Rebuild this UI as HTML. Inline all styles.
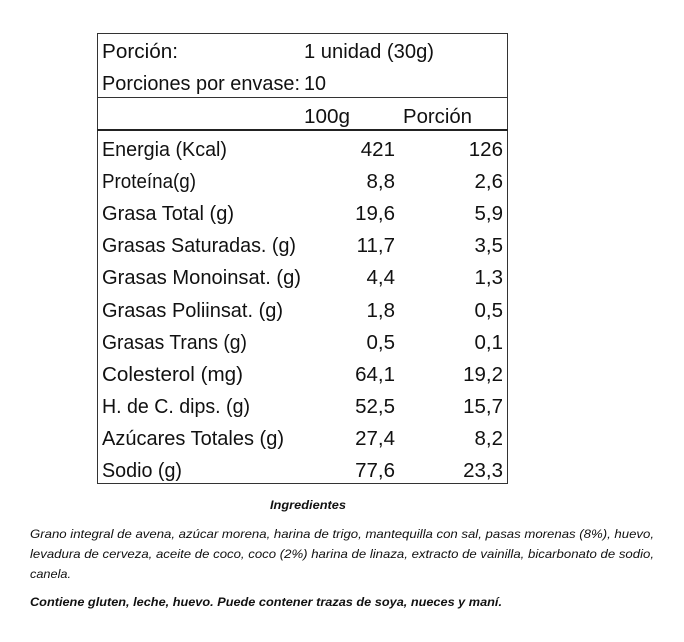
<!DOCTYPE html>
<html><head><meta charset="utf-8"><style>html,body{margin:0;padding:0;background:#fff}svg{display:block}</style></head>
<body>
<svg width="684" height="642" viewBox="0 0 684 642" xmlns="http://www.w3.org/2000/svg" font-family="Liberation Sans, sans-serif" fill="#111">
<rect x="97.5" y="33.5" width="410" height="450" fill="none" stroke="#333" stroke-width="1"/>
<line x1="97" y1="97.5" x2="508" y2="97.5" stroke="#333" stroke-width="1"/>
<line x1="97" y1="130" x2="508" y2="130" stroke="#222" stroke-width="2"/>
<g font-size="20.5">
<text x="102" y="58" textLength="76" lengthAdjust="spacingAndGlyphs">Porción:</text>
<text x="304" y="58" textLength="130" lengthAdjust="spacingAndGlyphs">1 unidad (30g)</text>
<text x="102" y="90" textLength="198" lengthAdjust="spacingAndGlyphs">Porciones por envase:</text>
<text x="304" y="90" textLength="22" lengthAdjust="spacingAndGlyphs">10</text>
<text x="304" y="123" textLength="46" lengthAdjust="spacingAndGlyphs">100g</text>
<text x="403" y="123" textLength="69" lengthAdjust="spacingAndGlyphs">Porción</text>

<text x="102" y="156" textLength="125" lengthAdjust="spacingAndGlyphs">Energia (Kcal)</text>
<text x="102" y="188" textLength="94" lengthAdjust="spacingAndGlyphs">Proteína(g)</text>
<text x="102" y="220" textLength="132" lengthAdjust="spacingAndGlyphs">Grasa Total (g)</text>
<text x="102" y="252" textLength="194" lengthAdjust="spacingAndGlyphs">Grasas Saturadas. (g)</text>
<text x="102" y="284" textLength="199" lengthAdjust="spacingAndGlyphs">Grasas Monoinsat. (g)</text>
<text x="102" y="317" textLength="181" lengthAdjust="spacingAndGlyphs">Grasas Poliinsat. (g)</text>
<text x="102" y="349" textLength="145" lengthAdjust="spacingAndGlyphs">Grasas Trans (g)</text>
<text x="102" y="381" textLength="141" lengthAdjust="spacingAndGlyphs">Colesterol (mg)</text>
<text x="102" y="413" textLength="148" lengthAdjust="spacingAndGlyphs">H. de C. dips. (g)</text>
<text x="102" y="445" textLength="182" lengthAdjust="spacingAndGlyphs">Azúcares Totales (g)</text>
<text x="102" y="477" textLength="80" lengthAdjust="spacingAndGlyphs">Sodio (g)</text>

<g text-anchor="end">
<text x="395" y="156">421</text><text x="503" y="156">126</text>
<text x="395" y="188">8,8</text><text x="503" y="188">2,6</text>
<text x="395" y="220">19,6</text><text x="503" y="220">5,9</text>
<text x="395" y="252">11,7</text><text x="503" y="252">3,5</text>
<text x="395" y="284">4,4</text><text x="503" y="284">1,3</text>
<text x="395" y="317">1,8</text><text x="503" y="317">0,5</text>
<text x="395" y="349">0,5</text><text x="503" y="349">0,1</text>
<text x="395" y="381">64,1</text><text x="503" y="381">19,2</text>
<text x="395" y="413">52,5</text><text x="503" y="413">15,7</text>
<text x="395" y="445">27,4</text><text x="503" y="445">8,2</text>
<text x="395" y="477">77,6</text><text x="503" y="477">23,3</text>
</g>
</g>
<g font-size="12" font-style="italic">
<text x="270" y="509" font-weight="bold" textLength="76" lengthAdjust="spacingAndGlyphs">Ingredientes</text>
<text x="30" y="538" textLength="624" lengthAdjust="spacingAndGlyphs">Grano integral de avena, azúcar morena, harina de trigo, mantequilla con sal, pasas morenas (8%), huevo,</text>
<text x="30" y="558" textLength="624" lengthAdjust="spacingAndGlyphs">levadura de cerveza, aceite de coco, coco (2%) harina de linaza, extracto de vainilla, bicarbonato de sodio,</text>
<text x="30" y="578" textLength="41" lengthAdjust="spacingAndGlyphs">canela.</text>
<text x="30" y="606" font-weight="bold" textLength="472" lengthAdjust="spacingAndGlyphs">Contiene gluten, leche, huevo.  Puede contener trazas de soya, nueces y maní.</text>
</g>
</svg>
</body></html>
